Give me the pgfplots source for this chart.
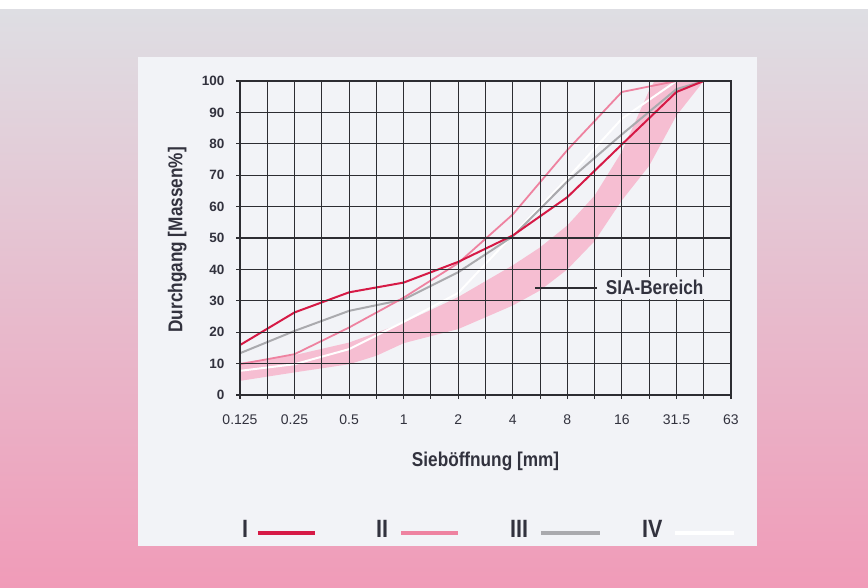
\documentclass[border=0pt]{standalone}
\usepackage{pgfplots}
\pgfplotsset{compat=1.18}
\usepackage{fontspec}
\setmainfont{Liberation Sans}
\newfontfamily\condfont{Liberation Sans}[FakeStretch=0.86]
\definecolor{bgtop}{RGB}{222,222,227}
\definecolor{bgmid}{RGB}{232,204,215}
\definecolor{bgbot}{RGB}{240,155,184}
\definecolor{panel}{RGB}{242,243,247}
\definecolor{gridc}{RGB}{45,45,50}
\definecolor{cI}{RGB}{214,26,70}
\definecolor{cII}{RGB}{238,130,160}
\definecolor{cIII}{RGB}{170,170,174}
\definecolor{cIV}{RGB}{255,255,255}
\definecolor{band}{RGB}{246,190,210}
\definecolor{txt}{RGB}{50,50,62}
\pgfplotsset{
  legIV/.style={legend image code/.code={\path[draw=none,fill=none] (0pt,0pt) -- (72pt,0pt); \draw[##1, line width=4pt] (12.7pt,-3pt) -- (71.7pt,-3pt);}},
  legIII/.style={legend image code/.code={\path[draw=none,fill=none] (0pt,0pt) -- (114pt,0pt); \draw[##1, line width=4pt] (13pt,-3pt) -- (72pt,-3pt);}},
  legII/.style={legend image code/.code={\path[draw=none,fill=none] (0pt,0pt) -- (122pt,0pt); \draw[##1, line width=4pt] (13pt,-3pt) -- (70pt,-3pt);}},
  legI/.style={legend image code/.code={\path[draw=none,fill=none] (0pt,0pt) -- (128pt,0pt); \draw[##1, line width=4pt] (9.6pt,-3pt) -- (66.6pt,-3pt);}},
}

\begin{document}
\begin{tikzpicture}[x=1pt,y=1pt]
\path[use as bounding box] (0,0) rectangle (868,588);
\fill[white] (0,0) rectangle (868,588);
\shade[top color=bgtop, middle color=bgmid, bottom color=bgbot] (0,0) rectangle (868,578);
\fill[panel] (138,42) rectangle (757,531);
\begin{axis}[
  at={(240pt,193pt)}, anchor=south west,
  width=491pt, height=314pt, scale only axis,
  xmin=0, xmax=9, ymin=0, ymax=100,
  xtick={0,...,9}, minor xtick={0.5,1.5,...,8.5},
  xticklabels={0.125,0.25,0.5,1,2,4,8,16,31.5,63},
  ytick={0,10,...,100},
  grid=both,
  major grid style={gridc, line width=1.1pt},
  minor grid style={gridc, line width=1.1pt},
  axis line style={gridc, line width=1.1pt},
  tick style={gridc, line width=1.1pt},
  tick align=outside, major tick length=4pt, minor tick length=4pt,
  xtick pos=bottom, ytick pos=left,
  axis on top,
  /pgf/number format/assume math mode=true,
  xticklabel style={font=\fontsize{14}{14}\selectfont, text=txt, yshift=-12pt},
  yticklabel style={font=\bfseries\fontsize{13.5}{13.5}\selectfont, text=txt, xshift=-8pt},
  xlabel={Sieböffnung [mm]},
  ylabel={Durchgang [Massen\%]},
  label style={font=\condfont\bfseries\fontsize{20}{20}\selectfont, text=txt},
  xlabel style={at={(axis description cs:0.5,-0.21)}, anchor=center},
  ylabel style={at={(axis description cs:-0.128,0.494)}, anchor=center},
  legend plot pos=right,
  legend columns=4,
  reverse legend,
  legend style={at={(axis description cs:-0.002,-0.43)}, anchor=west, draw=none, fill=none,
     font=\condfont\bfseries\fontsize{25}{25}\selectfont, text=txt,
     nodes={inner sep=0pt}, column sep=0pt},
]
% SIA range (band)
\addplot[fill=band, draw=none, forget plot] coordinates {
 (0,10.3) (1,12.7) (2,16.7) (3,23) (4,31.2) (5,41.3) (5.5,47) (6,54) (6.5,63.5) (7,77.5) (7.5,97) (7.6,100) (8.5,100)
 (8,89) (7.5,73) (7,62) (6.5,49) (6,40) (5.5,33.3) (5,28.5) (4,21) (3,16.5) (2.5,12.5) (2,9.8) (1,7.2) (0,4.5)
};
% IV
\addplot[cIV, line width=2pt, legIV]
 coordinates {(0,7.7) (1,9.8) (2,14.6) (3,23.3) (4,32.5) (5,51) (6,69) (7,88) (8,100)};
\addlegendentry{IV}
% III
\addplot[cIII, line width=2pt, legIII]
 coordinates {(0,13.3) (1,20.4) (2,26.8) (3,30.4) (4,39.1) (5,50.5) (6,68) (7,83) (8,97.4) (8.5,100)};
\addlegendentry{III}
% II
\addplot[cII, line width=1.8pt, legII]
 coordinates {(0,9.8) (1,13) (2,21.5) (3,31) (4,42) (5,57.5) (6,78) (7,96.5) (8,100)};
\addlegendentry{II}
% I
\addplot[cI, line width=2pt, legI]
 coordinates {(0,15.9) (1,26.3) (2,32.7) (3,35.8) (4,42.4) (5,50.8) (6,63) (7,79.8) (8,96.5) (8.5,100)};
\addlegendentry{I}
\coordinate (siaA) at (axis cs:5.41,34);
\coordinate (siaB) at (axis cs:6.55,34);
\coordinate (siaC) at (axis cs:7.6,34.2);
\end{axis}
\draw[gridc, line width=1.6pt] (siaA) -- (siaB);
\node[fill=panel, inner sep=0pt, minimum width=115pt, minimum height=22pt, text=txt,
      font=\condfont\bfseries\fontsize{20}{20}\selectfont] at (siaC) {SIA-Bereich};
\end{tikzpicture}
\end{document}
